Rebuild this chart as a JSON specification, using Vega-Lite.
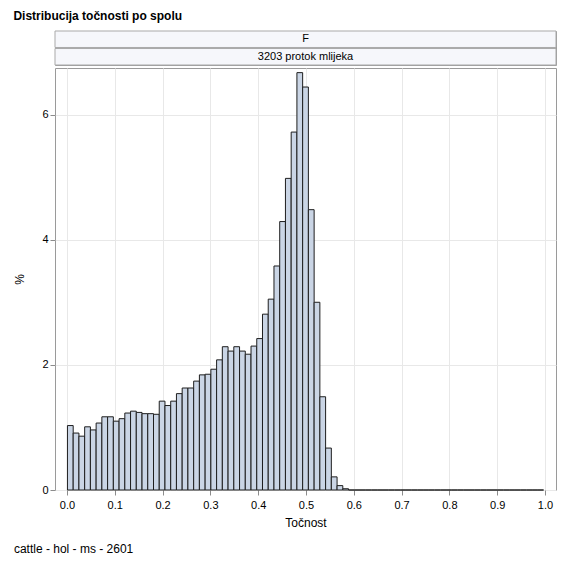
{
  "$schema": "https://vega.github.io/schema/vega-lite/v6.json",
  "background": "white",
  "padding": {"left": 13, "top": 10, "right": 10, "bottom": 8},
  "title": {
    "text": "Distribucija točnosti po spolu",
    "anchor": "start",
    "frame": "bounds",
    "font": "Liberation Sans",
    "fontSize": 12,
    "fontWeight": "bold",
    "color": "black",
    "offset": 7
  },
  "datasets": {
    "panels": [
      {"label": "F"},
      {"label": "3203 protok mlijeka"}
    ],
    "hist": [
      {"start": 0, "pct": 1.03}, {"start": 0.012, "pct": 0.91}, {"start": 0.024, "pct": 0.86},
      {"start": 0.036, "pct": 1.01}, {"start": 0.048, "pct": 0.96}, {"start": 0.06, "pct": 1.07},
      {"start": 0.072, "pct": 1.17}, {"start": 0.084, "pct": 1.17}, {"start": 0.096, "pct": 1.1},
      {"start": 0.108, "pct": 1.14}, {"start": 0.12, "pct": 1.23}, {"start": 0.132, "pct": 1.26},
      {"start": 0.144, "pct": 1.24}, {"start": 0.156, "pct": 1.22}, {"start": 0.168, "pct": 1.22},
      {"start": 0.18, "pct": 1.21}, {"start": 0.192, "pct": 1.42}, {"start": 0.204, "pct": 1.35},
      {"start": 0.216, "pct": 1.42}, {"start": 0.228, "pct": 1.54}, {"start": 0.24, "pct": 1.63},
      {"start": 0.252, "pct": 1.63}, {"start": 0.264, "pct": 1.74}, {"start": 0.276, "pct": 1.84},
      {"start": 0.288, "pct": 1.85}, {"start": 0.3, "pct": 1.93}, {"start": 0.312, "pct": 2.08},
      {"start": 0.324, "pct": 2.29}, {"start": 0.336, "pct": 2.22}, {"start": 0.348, "pct": 2.29},
      {"start": 0.36, "pct": 2.22}, {"start": 0.372, "pct": 2.17}, {"start": 0.384, "pct": 2.3},
      {"start": 0.396, "pct": 2.42}, {"start": 0.408, "pct": 2.81}, {"start": 0.42, "pct": 3.05},
      {"start": 0.432, "pct": 3.58}, {"start": 0.444, "pct": 4.29}, {"start": 0.456, "pct": 4.98},
      {"start": 0.468, "pct": 5.72}, {"start": 0.48, "pct": 6.67}, {"start": 0.492, "pct": 6.44},
      {"start": 0.504, "pct": 4.48}, {"start": 0.516, "pct": 3.0}, {"start": 0.528, "pct": 1.49},
      {"start": 0.54, "pct": 0.67}, {"start": 0.552, "pct": 0.21}, {"start": 0.564, "pct": 0.07},
      {"start": 0.576, "pct": 0.02}, {"start": 0.588, "pct": 0}, {"start": 0.6, "pct": 0},
      {"start": 0.612, "pct": 0}, {"start": 0.624, "pct": 0}, {"start": 0.636, "pct": 0},
      {"start": 0.648, "pct": 0}, {"start": 0.66, "pct": 0}, {"start": 0.672, "pct": 0},
      {"start": 0.684, "pct": 0}, {"start": 0.696, "pct": 0}, {"start": 0.708, "pct": 0},
      {"start": 0.72, "pct": 0}, {"start": 0.732, "pct": 0}, {"start": 0.744, "pct": 0},
      {"start": 0.756, "pct": 0}, {"start": 0.768, "pct": 0}, {"start": 0.78, "pct": 0},
      {"start": 0.792, "pct": 0}, {"start": 0.804, "pct": 0}, {"start": 0.816, "pct": 0},
      {"start": 0.828, "pct": 0}, {"start": 0.84, "pct": 0}, {"start": 0.852, "pct": 0},
      {"start": 0.864, "pct": 0}, {"start": 0.876, "pct": 0}, {"start": 0.888, "pct": 0},
      {"start": 0.9, "pct": 0}, {"start": 0.912, "pct": 0}, {"start": 0.924, "pct": 0},
      {"start": 0.936, "pct": 0}, {"start": 0.948, "pct": 0}, {"start": 0.96, "pct": 0},
      {"start": 0.972, "pct": 0}, {"start": 0.984, "pct": 0}
    ]
  },
  "spacing": 1,
  "vconcat": [
    {
      "data": {"name": "panels"},
      "width": 501,
      "height": 34,
      "layer": [
        {
          "mark": {"type": "bar", "fill": "#f6f7fb", "stroke": "#a9a9a9", "strokeWidth": 1},
          "encoding": {
            "y": {
              "field": "label",
              "type": "nominal",
              "sort": null,
              "axis": null,
              "scale": {"paddingInner": 0.06, "paddingOuter": 0}
            }
          }
        },
        {
          "mark": {"type": "text", "font": "Liberation Sans", "fontSize": 11, "color": "black"},
          "encoding": {
            "y": {"field": "label", "type": "nominal", "sort": null, "axis": null},
            "text": {"field": "label"}
          }
        }
      ]
    },
    {
      "data": {"name": "hist"},
      "width": 501,
      "height": 422,
      "title": {
        "text": "cattle - hol - ms - 2601",
        "orient": "bottom",
        "anchor": "start",
        "frame": "bounds",
        "font": "Liberation Sans",
        "fontSize": 12,
        "fontWeight": "normal",
        "color": "black",
        "offset": 16
      },
      "mark": {"type": "bar", "fill": "#cad5e5", "stroke": "#1e1e1e", "strokeWidth": 1, "binSpacing": 0},
      "encoding": {
        "x": {
          "field": "start",
          "type": "quantitative",
          "bin": {"binned": true, "step": 0.012},
          "scale": {"domain": [-0.025, 1.023], "nice": false, "zero": false},
          "axis": {
            "values": [0, 0.1, 0.2, 0.3, 0.4, 0.5, 0.6, 0.7, 0.8, 0.9, 1.0],
            "format": ".1f",
            "title": "Točnost",
            "labelPadding": 4,
            "titlePadding": 7
          }
        },
        "y": {
          "field": "pct",
          "type": "quantitative",
          "scale": {"domain": [0, 6.744], "nice": false},
          "axis": {"values": [0, 2, 4, 6], "format": "d", "title": "%", "titlePadding": 15}
        }
      }
    }
  ],
  "config": {
    "font": "Liberation Sans",
    "view": {"stroke": "#9a9a9a", "strokeWidth": 1},
    "axis": {
      "domain": false,
      "grid": true,
      "gridColor": "#e8e8e8",
      "gridWidth": 1,
      "tickColor": "#8c8c8c",
      "tickSize": 5,
      "labelFont": "Liberation Sans",
      "labelFontSize": 11,
      "labelColor": "black",
      "titleFont": "Liberation Sans",
      "titleFontSize": 12,
      "titleFontWeight": "normal",
      "titleColor": "black"
    }
  }
}
